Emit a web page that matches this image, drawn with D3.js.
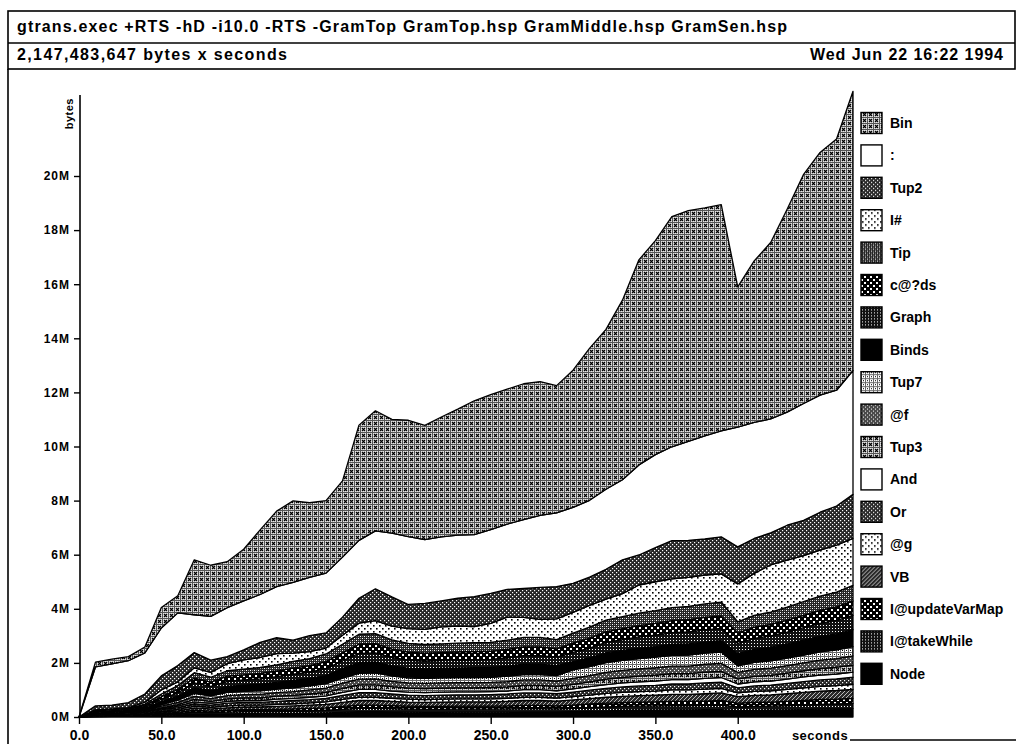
<!DOCTYPE html>
<html lang="en">
<head>
<meta charset="UTF-8">
<title>gtrans heap profile</title>
<script src="https://d3js.org/d3.v7.min.js"></script>
<style>
  body { margin: 0; background: #fff; }
  svg { display: block; font-family: "Liberation Sans", Arial, sans-serif; font-weight: bold; }
  .hdr { font-size: 16px; }
  .ytick { font-size: 12px; letter-spacing: 1px; }
  .xtick { font-size: 14px; }
  .leg { font-size: 14px; }
</style>
</head>
<body>
<div id="chart"></div>
<script>
// sample times (seconds) and per-constructor heap (millions of bytes)
const times = [0,10,20,30,40,50,60,70,80,90,100,110,120,130,140,150,160,170,180,190,200,210,220,230,240,250,260,270,280,290,300,310,320,330,340,350,360,370,380,390,400,410,420,430,440,450,460,470];

const binVals   = [0,0.18,0.18,0.15,0.22,0.76,0.63,2.03,1.89,1.7,1.91,2.39,2.79,3.01,2.76,2.68,2.82,4.26,4.44,4.2,4.3,4.22,4.43,4.66,4.95,4.99,4.99,5.02,4.95,4.7,5.07,5.62,5.91,6.64,7.58,7.91,8.51,8.53,8.43,8.36,5.18,5.97,6.52,7.5,8.47,8.97,9.29,10.32];
const colonVals = [0,1.44,1.52,1.55,1.52,1.77,1.95,1.4,1.62,1.81,1.81,1.77,1.89,2.14,2.15,2.21,2.22,2.14,2.14,2.36,2.51,2.36,2.37,2.33,2.29,2.36,2.41,2.55,2.66,2.73,2.81,2.84,2.96,2.96,3.33,3.44,3.47,3.66,3.81,3.92,4.43,4.29,4.21,4.18,4.32,4.33,4.28,4.58];
const tup2Vals  = [0,0.15,0.14,0.18,0.3,0.52,0.6,0.56,0.45,0.26,0.37,0.56,0.59,0.48,0.59,0.56,0.67,0.92,1.18,1.08,0.89,0.96,0.96,1.03,1.11,1.11,1.03,1.07,1.18,1.19,1.07,1.04,1.1,1.25,1.11,1.26,1.41,1.37,1.33,1.37,1.37,1.29,1.19,1.29,1.3,1.4,1.45,1.63];
const iHashVals = [0,0.04,0.04,0.04,0.07,0.15,0.14,0.18,0.18,0.26,0.34,0.37,0.41,0.3,0.26,0.22,0.33,0.41,0.48,0.51,0.55,0.56,0.63,0.63,0.59,0.7,0.85,0.74,0.67,0.77,0.77,0.81,0.78,0.85,1.04,1.07,1.07,1.07,1.07,1.04,1.4,1.55,1.74,1.74,1.7,1.7,1.73,1.73];
const tipVals   = [0,.03,.03,.04,.06,.10,.14,.20,.18,.20,.21,.22,.23,.25,.26,.28,.32,.37,.37,.34,.32,.32,.32,.32,.33,.33,.34,.35,.35,.34,.37,.40,.43,.44,.46,.47,.48,.49,.50,.51,.42,.44,.46,.48,.51,.53,.55,.58];
const cdsVals   = [0,.02,.03,.04,.05,.09,.13,.18,.16,.19,.19,.20,.21,.23,.24,.26,.29,.34,.34,.31,.30,.29,.29,.30,.30,.30,.31,.32,.32,.31,.34,.37,.39,.41,.42,.43,.44,.45,.46,.46,.38,.41,.42,.44,.46,.48,.50,.53];
const graphVals = [0,.02,.03,.03,.05,.09,.12,.18,.16,.19,.19,.20,.21,.23,.23,.26,.29,.34,.34,.31,.30,.29,.29,.30,.30,.30,.31,.32,.32,.31,.34,.36,.39,.40,.42,.43,.44,.45,.45,.46,.38,.41,.42,.44,.46,.48,.50,.53];
const bindsVals = [0,.03,.03,.04,.06,.11,.15,.21,.19,.22,.23,.24,.25,.27,.28,.30,.35,.40,.40,.37,.35,.35,.35,.35,.36,.36,.37,.38,.38,.37,.31,.33,.36,.37,.38,.39,.40,.41,.41,.42,.45,.48,.50,.52,.55,.57,.59,.63];
const tup7Vals  = [0,.02,.02,.02,.03,.06,.08,.11,.10,.12,.12,.13,.13,.14,.15,.16,.19,.21,.22,.20,.19,.19,.19,.19,.19,.19,.20,.20,.20,.20,.31,.33,.36,.37,.38,.39,.40,.41,.41,.42,.24,.26,.27,.28,.29,.31,.32,.34];
const atFVals   = [0,.02,.02,.02,.03,.06,.08,.11,.10,.12,.12,.13,.13,.14,.15,.16,.19,.21,.22,.20,.19,.19,.19,.19,.19,.19,.20,.20,.20,.20,.22,.23,.25,.26,.27,.27,.28,.28,.29,.29,.24,.26,.27,.28,.29,.31,.32,.34];
const tup3Vals  = [0,.01,.01,.02,.03,.05,.06,.09,.08,.09,.10,.10,.11,.11,.12,.13,.15,.17,.17,.16,.15,.15,.15,.15,.15,.15,.15,.16,.16,.16,.17,.18,.20,.20,.21,.22,.22,.22,.23,.23,.19,.20,.21,.22,.23,.24,.25,.26];
const andVals   = [0,.01,.01,.01,.02,.03,.05,.07,.06,.07,.07,.07,.08,.08,.09,.09,.11,.12,.12,.11,.11,.11,.11,.11,.11,.11,.11,.12,.12,.11,.12,.13,.14,.15,.15,.16,.16,.16,.17,.17,.14,.15,.15,.16,.17,.18,.18,.19];
const orVals    = [0,.01,.02,.02,.03,.05,.07,.09,.08,.10,.10,.10,.11,.12,.12,.13,.15,.17,.17,.16,.15,.15,.15,.15,.15,.16,.16,.16,.16,.16,.17,.18,.19,.20,.21,.21,.22,.22,.23,.23,.19,.20,.21,.22,.23,.24,.25,.26];
const atGVals   = [0,.01,.01,.01,.02,.03,.05,.06,.06,.07,.07,.07,.08,.08,.08,.09,.11,.12,.12,.11,.11,.10,.11,.11,.11,.11,.11,.12,.12,.11,.12,.13,.14,.15,.15,.15,.16,.16,.17,.17,.14,.15,.15,.16,.17,.17,.18,.19];
const vbVals    = [0,.01,.01,.02,.03,.05,.06,.09,.08,.09,.10,.10,.11,.11,.12,.13,.15,.17,.17,.16,.15,.15,.16,.16,.16,.16,.17,.18,.18,.18,.19,.20,.22,.23,.24,.25,.26,.26,.27,.28,.24,.26,.27,.28,.30,.31,.32,.33];
const updVals   = [0,.01,.01,.01,.02,.03,.05,.07,.06,.07,.07,.07,.08,.08,.09,.09,.11,.12,.12,.11,.11,.11,.11,.11,.11,.11,.11,.12,.12,.11,.12,.13,.14,.14,.15,.15,.16,.16,.16,.17,.14,.15,.15,.16,.17,.18,.18,.19];
const takeVals  = [0,.01,.01,.01,.02,.04,.05,.07,.06,.07,.08,.08,.08,.09,.09,.10,.11,.12,.12,.12,.11,.11,.11,.11,.11,.11,.12,.12,.12,.11,.12,.13,.14,.15,.15,.16,.16,.16,.16,.17,.14,.15,.15,.16,.17,.18,.18,.19];
const nodeVals  = [0,.01,.02,.02,.03,.06,.07,.11,.10,.11,.12,.12,.12,.13,.14,.15,.17,.20,.20,.19,.18,.17,.17,.18,.18,.18,.18,.19,.19,.19,.20,.22,.23,.24,.25,.25,.26,.26,.27,.27,.23,.24,.25,.26,.27,.29,.30,.31];

const yTicks = [0, 2, 4, 6, 8, 10, 12, 14, 16, 18, 20];
const xTicks = [0, 50, 100, 150, 200, 250, 300, 350, 400];

// legend order = top band first
const series = [
  { name: "Bin", values: binVals, fill: "url(#p-cross)" },
  { name: ":", values: colonVals, fill: "#fff" },
  { name: "Tup2", values: tup2Vals, fill: "url(#p-dark)" },
  { name: "I#", values: iHashVals, fill: "url(#p-light)" },
  { name: "Tip", values: tipVals, fill: "url(#p-tip)" },
  { name: "c@?ds", values: cdsVals, fill: "url(#p-diam)" },
  { name: "Graph", values: graphVals, fill: "url(#p-grid)" },
  { name: "Binds", values: bindsVals, fill: "#000" },
  { name: "Tup7", values: tup7Vals, fill: "url(#p-lgrid)" },
  { name: "@f", values: atFVals, fill: "url(#p-mid)" },
  { name: "Tup3", values: tup3Vals, fill: "url(#p-cross)" },
  { name: "And", values: andVals, fill: "#fff" },
  { name: "Or", values: orVals, fill: "url(#p-dark)" },
  { name: "@g", values: atGVals, fill: "url(#p-light)" },
  { name: "VB", values: vbVals, fill: "url(#p-vb)" },
  { name: "I@updateVarMap", values: updVals, fill: "url(#p-diam)" },
  { name: "I@takeWhile", values: takeVals, fill: "url(#p-grid)" },
  { name: "Node", values: nodeVals, fill: "#000" }
];

const width = 1020, height = 744;

const svg = d3.select("#chart").append("svg")
  .attr("width", width)
  .attr("height", height);

svg.append("rect").attr("width", width).attr("height", height).attr("fill", "#fff");

// fill patterns imitating the printed halftones
const defs = svg.append("defs");
function pat(id, w, h, bg) {
  const p = defs.append("pattern").attr("id", id)
    .attr("patternUnits", "userSpaceOnUse")
    .attr("width", w).attr("height", h);
  p.append("rect").attr("width", w).attr("height", h).attr("fill", bg);
  return p;
}
function dot(p, x, y, s, c) {
  p.append("rect").attr("x", x).attr("y", y).attr("width", s).attr("height", s).attr("fill", c);
}

let p = pat("p-cross", 6, 6, "#e4e4e4");
p.append("rect").attr("width", 6).attr("height", 1).attr("fill", "#555");
p.append("rect").attr("width", 1).attr("height", 6).attr("fill", "#555");
p.append("path").attr("d", "M2,2L5,5M5,2L2,5").attr("stroke", "#000").attr("stroke-width", 1.2);

p = pat("p-dark", 4, 4, "#262626");
dot(p, 0, 0, 1.2, "#fff"); dot(p, 2, 2, 1.2, "#fff");

p = pat("p-tip", 4, 4, "#262626");
dot(p, 0, 0, 1, "#fff"); dot(p, 2, 2, 1, "#fff"); dot(p, 0, 2, 1, "#888"); dot(p, 2, 0, 1, "#888");

p = pat("p-light", 6, 6, "#fff");
dot(p, 1, 1, 1.6, "#000"); dot(p, 4, 4, 1.6, "#000");

p = pat("p-diam", 6, 6, "#000");
dot(p, 0, 0, 2, "#fff"); dot(p, 3, 3, 2, "#fff");

p = pat("p-grid", 3, 3, "#111");
dot(p, 1, 1, 1, "#fff");

p = pat("p-lgrid", 4, 4, "#fff");
p.append("rect").attr("width", 4).attr("height", 1).attr("fill", "#666");
p.append("rect").attr("width", 1).attr("height", 4).attr("fill", "#666");
dot(p, 2, 2, 1, "#000");

p = pat("p-mid", 4, 4, "#4a4a4a");
dot(p, 0, 0, 1, "#fff"); dot(p, 2, 2, 1, "#fff");

p = pat("p-vb", 4, 4, "#2a2a2a");
p.append("path").attr("d", "M0,4L4,0").attr("stroke", "#ddd").attr("stroke-width", 0.8);

// header box
svg.append("rect").attr("x", 8).attr("y", 11).attr("width", 1007).attr("height", 58)
  .attr("fill", "none").attr("stroke", "#000").attr("stroke-width", 1.6);
svg.append("line").attr("x1", 8).attr("x2", 1015).attr("y1", 43).attr("y2", 43)
  .attr("stroke", "#000").attr("stroke-width", 1.4);
svg.append("text").attr("class", "hdr").attr("x", 17).attr("y", 32)
  .attr("textLength", 770).attr("lengthAdjust", "spacing")
  .text("gtrans.exec +RTS -hD -i10.0 -RTS -GramTop GramTop.hsp GramMiddle.hsp GramSen.hsp");
svg.append("text").attr("class", "hdr").attr("x", 17).attr("y", 60)
  .attr("textLength", 270).attr("lengthAdjust", "spacing")
  .text("2,147,483,647 bytes x seconds");
svg.append("text").attr("class", "hdr").attr("x", 810).attr("y", 60)
  .attr("textLength", 193).attr("lengthAdjust", "spacing")
  .text("Wed Jun 22 16:22 1994");

// page frame remnants
svg.append("line").attr("x1", 8).attr("x2", 8).attr("y1", 69).attr("y2", 744)
  .attr("stroke", "#000").attr("stroke-width", 1.6);
svg.append("line").attr("x1", 850).attr("x2", 1016).attr("y1", 740).attr("y2", 740)
  .attr("stroke", "#000").attr("stroke-width", 1.4);

// scales
const x = d3.scaleLinear().domain([0, 470]).range([79, 853]);
const y = d3.scaleLinear().domain([0, 23]).range([717, 94.85]);

const table = times.map((t, i) => {
  const row = { t };
  series.forEach(s => row[s.name] = s.values[i]);
  return row;
});

const layers = d3.stack().keys(series.map(s => s.name).reverse())(table);
const fillOf = {};
series.forEach(s => fillOf[s.name] = s.fill);

const area = d3.area()
  .x(d => x(d.data.t))
  .y0(d => y(d[0]))
  .y1(d => y(d[1]));

svg.append("g").selectAll("path")
  .data(layers)
  .join("path")
  .attr("d", area)
  .attr("fill", d => fillOf[d.key])
  .attr("stroke", "#000")
  .attr("stroke-width", 1.3)
  .attr("stroke-linejoin", "round");

// y axis
const yAxis = svg.append("g").attr("transform", "translate(80,0)")
  .call(d3.axisLeft(y).tickValues(yTicks).tickFormat(d => d + "M").tickSize(6).tickPadding(4));
yAxis.select(".domain").attr("d", "M0,95V717").attr("stroke-width", 1.6);
yAxis.selectAll(".tick line").attr("stroke-width", 1.4);
yAxis.selectAll(".tick text").attr("class", "ytick").attr("font-family", null).attr("font-size", null);

svg.append("text").attr("class", "ytick")
  .attr("transform", "translate(73,98) rotate(-90)")
  .attr("text-anchor", "end")
  .style("font-size", "11px").style("letter-spacing", "0.5px")
  .text("bytes");

// x axis
const xAxis = svg.append("g").attr("transform", "translate(0,717)")
  .call(d3.axisBottom(x).tickValues(xTicks).tickFormat(d3.format(".1f")).tickSize(7).tickPadding(5));
xAxis.select(".domain").remove();
xAxis.selectAll(".tick line").attr("stroke-width", 1.4);
xAxis.selectAll(".tick text").attr("class", "xtick").attr("font-family", null).attr("font-size", null)
  .attr("dy", null).attr("y", 23);

svg.append("text").attr("class", "ytick")
  .attr("x", 820).attr("y", 740).attr("text-anchor", "middle")
  .style("font-size", "13px").style("letter-spacing", "0.5px")
  .text("seconds");

// legend
const legend = svg.append("g").selectAll("g")
  .data(series)
  .join("g")
  .attr("transform", (d, i) => `translate(861,${123 + i * 32.4})`);

legend.append("rect")
  .attr("x", 0).attr("y", -10.5)
  .attr("width", 21).attr("height", 21)
  .attr("fill", d => d.fill)
  .attr("stroke", "#000").attr("stroke-width", 1.4);

legend.append("text").attr("class", "leg")
  .attr("x", 29).attr("y", 5)
  .text(d => d.name);
</script>
</body>
</html>
